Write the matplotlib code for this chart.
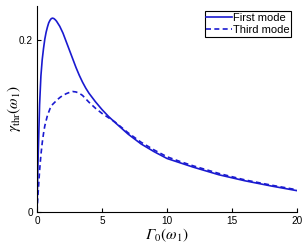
import matplotlib
matplotlib.use("Agg")
import matplotlib.pyplot as plt

plt.rcParams['font.family'] = ['Liberation Sans', 'DejaVu Sans']
plt.rcParams['mathtext.fontset'] = 'stix'

# first mode
g1 = [0, 0.05, 0.1, 0.2, 0.3, 0.4, 0.5, 0.6, 0.7, 0.8, 0.9, 1.0, 1.1, 1.2,
      1.3, 1.4, 1.5, 1.75, 2.0, 2.25, 2.5, 2.75, 3.0, 3.25, 3.5, 3.75, 4.0,
      4.5, 5.0, 5.5, 6, 7, 8, 9, 10, 11, 12, 14, 16, 18, 20]
y1 = [0, 0.04, 0.07, 0.125, 0.158, 0.177, 0.19, 0.201, 0.209, 0.215, 0.22,
      0.223, 0.225, 0.2255, 0.225, 0.2237, 0.222, 0.216, 0.208, 0.198, 0.188,
      0.178, 0.168, 0.159, 0.151, 0.144, 0.138, 0.128, 0.119, 0.111, 0.104,
      0.0905, 0.079, 0.070, 0.062, 0.057, 0.052, 0.043, 0.036, 0.030, 0.0245]

# third mode
g3 = [0, 0.05, 0.1, 0.2, 0.3, 0.4, 0.5, 0.6, 0.8, 1.0, 1.2, 1.4, 1.6, 1.8,
      2.0, 2.25, 2.5, 2.75, 3.0, 3.25, 3.5, 3.75, 4.0, 4.5, 5.0, 5.5, 6, 7,
      8, 9, 10, 11, 12, 14, 16, 18, 20]
y3 = [0, 0.013, 0.025, 0.048, 0.066, 0.080, 0.091, 0.100, 0.112, 0.120,
      0.125, 0.128, 0.131, 0.1335, 0.1355, 0.1375, 0.139, 0.140, 0.1395,
      0.138, 0.1355, 0.1315, 0.1275, 0.1205, 0.1145, 0.1095, 0.1045, 0.092,
      0.081, 0.072, 0.064, 0.0585, 0.0535, 0.0445, 0.037, 0.031, 0.0255]

col = '#1a1ad0'

fig = plt.figure(figsize=(3.07, 2.5), dpi=100)
ax = fig.add_axes([37/307, 38.3/250, 260/307, 206/250])
ax.plot(g1, y1, c=col, lw=1.2, label="First mode")
ax.plot(g3, y3, c=col, lw=1.2, ls=(0, (3, 2)), label="Third mode")

ax.set_xlim(0, 20)
ax.set_ylim(0, 0.24)
ax.set_xticks([0, 5, 10, 15, 20])
ax.set_yticks([0, 0.2])
ax.set_yticklabels(['0', '0.2'])
ax.tick_params(direction='in', length=3, labelsize=7.2, width=0.8, pad=3)
for s in ['top', 'right']:
    ax.spines[s].set_visible(False)
for s in ['left', 'bottom']:
    ax.spines[s].set_linewidth(0.8)

# italic capital Gamma: plain text in STIX italic, rest as mathtext
ax.set_xlabel('\u0393${}_0(\\omega_1)$', fontsize=11, labelpad=0.5,
              family='STIXGeneral', style='italic')
ax.set_ylabel(r'$\gamma_{\rm thr}(\omega_1)$', fontsize=11)
ax.yaxis.set_label_coords(-0.052, 0.5)

leg = ax.legend(loc='upper right', fontsize=8, frameon=True, fancybox=False,
                handlelength=2.3, handletextpad=0.1, borderpad=0.15,
                labelspacing=0.2, borderaxespad=0.5, framealpha=1)
leg.get_frame().set_edgecolor('black')
leg.get_frame().set_linewidth(0.8)

fig.savefig("out.png", dpi=100)
